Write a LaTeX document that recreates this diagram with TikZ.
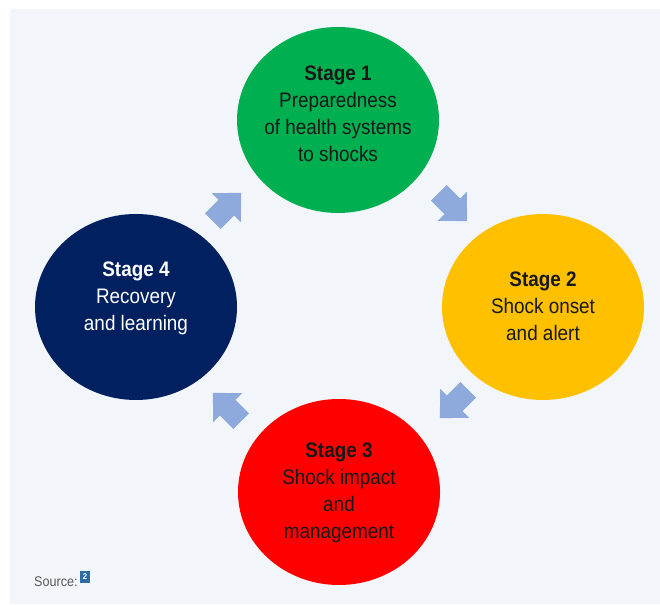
\documentclass[tikz,border=0pt]{standalone}
\usepackage{fontspec}
\setmainfont{Liberation Sans}[FakeStretch=0.9]
\usetikzlibrary{shapes.geometric}
\definecolor{bgc}{HTML}{F2F5FA}
\definecolor{st1}{HTML}{00B050}
\definecolor{st2}{HTML}{FFC000}
\definecolor{st3}{HTML}{FF0000}
\definecolor{st4}{HTML}{002060}
\definecolor{arr}{HTML}{8EA9DB}
\definecolor{srcgrey}{HTML}{595959}
\definecolor{srcblue}{HTML}{2E6DA4}
\begin{document}
\begin{tikzpicture}[x=1pt,y=1pt,
  stage/.style={ellipse, minimum width=202pt, minimum height=186pt, inner sep=0pt},
  stagetext/.style={align=center, font=\fontsize{21}{27}\selectfont, inner sep=0pt, text=black!90},
  blockarrow/.style={fill=arr}]
\useasboundingbox (0,0) rectangle (660,604);
\fill[bgc] (10,0) rectangle (660,595);
% stages
\node[stage, fill=st1] (s1) at (338,484) {};
\node[stage, fill=st2] (s2) at (543,297) {};
\node[stage, fill=st3] (s3) at (339,112) {};
\node[stage, fill=st4] (s4) at (136,297) {};
\node[stagetext] (t1) at ([yshift=6pt]s1.center) {\textbf{Stage 1}\\Preparedness\\of health systems\\to shocks};
\node[stagetext] (t2) at ([yshift=1pt]s2.center) {\textbf{Stage 2}\\Shock onset\\and alert};
\node[stagetext] (t3) at ([yshift=-1pt]s3.center) {\textbf{Stage 3}\\Shock impact\\and\\management};
\node[stagetext, text=white] (t4) at ([yshift=9pt]s4.center) {\textbf{Stage 4}\\Recovery\\and learning};
% block arrows
\foreach \cx/\cy/\ang in {227/397/45, 453/397/-45, 454/200/-135, 227/197/135}{
  \fill[blockarrow, shift={(\cx,\cy)}, rotate=\ang]
    (-20,-11) -- (-1,-11) -- (-1,-20.5) -- (20,0) -- (-1,20.5) -- (-1,11) -- (-20,11) -- cycle;
}
% source
\node[anchor=west, text=srcgrey, inner sep=0pt, font=\fontsize{14}{16}\selectfont] (src) at (34,22) {Source:};
\node[fill=srcblue, text=white, inner sep=0pt, minimum width=10pt, minimum height=11pt, font=\bfseries\fontsize{8.5}{8.5}\selectfont, anchor=west] (srcicon) at ([xshift=2pt,yshift=5pt]src.east) {2};
\end{tikzpicture}
\end{document}
